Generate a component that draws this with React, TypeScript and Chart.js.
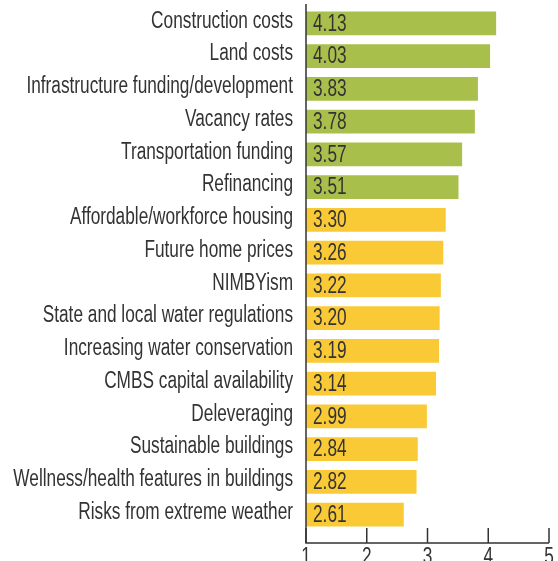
import React, { useEffect, useRef } from "react";
import { Chart, registerables } from "chart.js";

Chart.register(...registerables);

const categories = [
  "Construction costs",
  "Land costs",
  "Infrastructure funding/development",
  "Vacancy rates",
  "Transportation funding",
  "Refinancing",
  "Affordable/workforce housing",
  "Future home prices",
  "NIMBYism",
  "State and local water regulations",
  "Increasing water conservation",
  "CMBS capital availability",
  "Deleveraging",
  "Sustainable buildings",
  "Wellness/health features in buildings",
  "Risks from extreme weather",
];

const values = [4.13, 4.03, 3.83, 3.78, 3.57, 3.51, 3.3, 3.26, 3.22, 3.2, 3.19, 3.14, 2.99, 2.84, 2.82, 2.61];

const xTicks = [1, 2, 3, 4, 5];

const GREEN = "#a9bf4c";
const YELLOW = "#f9ca36";
const FONT = "'Liberation Sans', Arial, sans-serif";
const TEXT = "#333333";
const SX = 0.75;
const SIZE = 23;

function narrowText(ctx: CanvasRenderingContext2D, text: string, x: number, y: number, align: CanvasTextAlign, baseline: CanvasTextBaseline) {
  ctx.save();
  ctx.translate(x, y);
  ctx.scale(SX, 1);
  ctx.textAlign = align;
  ctx.textBaseline = baseline;
  ctx.fillText(text, 0, 0);
  ctx.restore();
}

export default function App() {
  const ref = useRef<HTMLCanvasElement | null>(null);

  useEffect(() => {
    if (!ref.current) return;
    const colors = values.map((_, i) => (i < 6 ? GREEN : YELLOW));

    const overlay = {
      id: "overlay",
      afterDatasetsDraw(chart: any) {
        const ctx = chart.ctx;
        const meta = chart.getDatasetMeta(0);
        ctx.save();
        ctx.fillStyle = TEXT;
        ctx.font = `${SIZE}px ${FONT}`;
        meta.data.forEach((bar: any, i: number) => {
          narrowText(ctx, values[i].toFixed(2), bar.base + 7, bar.y + 1, "left", "middle");
        });
        ctx.restore();
      },
      afterDraw(chart: any) {
        const ctx = chart.ctx;
        const xs = chart.scales.x;
        const ys = chart.scales.y;
        const area = chart.chartArea;
        const yAxis = area.bottom + 12;
        ctx.save();
        ctx.fillStyle = TEXT;
        ctx.font = `${SIZE}px ${FONT}`;
        categories.forEach((c, i) => {
          narrowText(ctx, c, area.left - 13, ys.getPixelForTick(i) - 2, "right", "middle");
        });
        xTicks.forEach((t) => {
          narrowText(ctx, String(t), xs.getPixelForValue(t), yAxis + 3, "center", "top");
        });
        ctx.strokeStyle = "#333333";
        ctx.lineWidth = 1.5;
        ctx.beginPath();
        ctx.moveTo(area.left, 4);
        ctx.lineTo(area.left, yAxis);
        ctx.lineTo(xs.getPixelForValue(5), yAxis);
        ctx.stroke();
        xTicks.forEach((t) => {
          const px = xs.getPixelForValue(t);
          ctx.beginPath();
          ctx.moveTo(px, yAxis);
          ctx.lineTo(px, yAxis - 15);
          ctx.stroke();
        });
        ctx.restore();
      },
    };

    const chart = new Chart(ref.current, {
      type: "bar",
      data: {
        labels: categories,
        datasets: [
          {
            data: values,
            base: 1,
            backgroundColor: colors,
            borderWidth: 0,
            categoryPercentage: 1,
            barPercentage: 0.72,
          },
        ],
      },
      options: {
        indexAxis: "y",
        animation: false,
        responsive: false,
        maintainAspectRatio: false,
        layout: { padding: { top: 7, right: 9, left: 0, bottom: 0 } },
        plugins: {
          legend: { display: false },
          tooltip: { enabled: false },
        },
        scales: {
          x: {
            type: "linear",
            min: 1,
            max: 5,
            afterBuildTicks: (scale: any) => {
              scale.ticks = xTicks.map((v) => ({ value: v }));
            },
            afterFit: (scale: any) => {
              scale.height = 30;
            },
            grid: { display: false, drawTicks: false },
            border: { display: false },
            ticks: { display: false },
          },
          y: {
            afterFit: (scale: any) => {
              scale.width = 306;
            },
            grid: { display: false, drawTicks: false },
            border: { display: false },
            ticks: { display: false, autoSkip: false },
          },
        },
      },
      plugins: [overlay],
    });
    return () => chart.destroy();
  }, []);

  return (
    <div style={{ position: "fixed", left: 0, top: 0, width: 558, height: 561, overflow: "hidden", background: "#fff" }}>
      <canvas ref={ref} width={558} height={561} style={{ display: "block" }} />
    </div>
  );
}
